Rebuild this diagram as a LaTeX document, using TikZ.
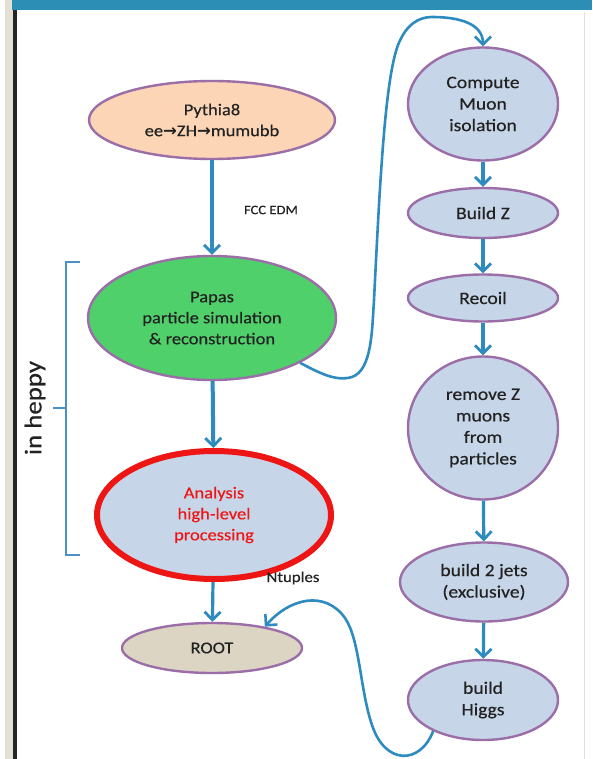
\documentclass[tikz,border=0pt]{standalone}
\usepackage{fontspec}
\setmainfont[FakeStretch=1.12,FakeBold=0.4]{Carlito}
\newfontfamily\symfont{DejaVu Sans}
\usetikzlibrary{shapes.geometric,arrows.meta}
\definecolor{conn}{HTML}{2E8BC0}
\definecolor{brk}{HTML}{4A8FC8}
\definecolor{purp}{HTML}{9B6EA8}
\definecolor{lblue}{HTML}{C6D6E8}
\definecolor{peach}{HTML}{FBD5B5}
\definecolor{lgreen}{HTML}{50D06A}
\definecolor{rootc}{HTML}{DDD5C3}
\definecolor{redc}{HTML}{EE1515}
\definecolor{txt}{HTML}{222222}
\definecolor{banner}{HTML}{2C8DB5}
\definecolor{strip}{HTML}{E5E0D6}
\tikzset{
  ell/.style={ellipse, draw=purp, line width=2.4pt, inner sep=0pt, align=center, text=txt},
  lefttxt/.style={font=\fontsize{16.5}{21}\selectfont},
  righttxt/.style={font=\fontsize{17.5}{21.5}\selectfont},
  flow/.style={draw=conn, line width=3.2pt, -{Straight Barb[length=8pt,width=16pt,line width=2.8pt]}},
  curvy/.style={draw=conn, line width=2.6pt, -{Straight Barb[length=8pt,width=16pt,line width=2.6pt]}},
  lbl/.style={text=txt, inner sep=0pt}
}
\begin{document}
\begin{tikzpicture}[x=1pt,y=-1pt]
\useasboundingbox (0,0) rectangle (592,759);
% frame decorations
\fill[white] (0,0) rectangle (592,759);
\fill[strip] (5,0) rectangle (13,759);
\fill[banner] (12,0) rectangle (592,10);
\fill[black!85] (13,10) rectangle (17,759);
\draw[black!12, line width=1pt] (584,12) -- (584,759);

% left column
\node[ell, lefttxt, fill=peach, minimum width=246pt, minimum height=78pt] (pythia) at (212,120)
  {Pythia8\\ee{\symfont\bfseries →}ZH{\symfont\bfseries →}mumubb};
\node[ell, lefttxt, fill=lgreen, minimum width=248pt, minimum height=124pt] (papas) at (212,318)
  {Papas\\particle simulation\\\& reconstruction};
\node[ellipse, draw=redc, line width=6pt, inner sep=0pt, fill=lblue, align=center, text=redc, lefttxt,
  minimum width=234pt, minimum height=128pt] (analysis) at (214,515)
  {Analysis\\high-level\\processing};
\node[ell, lefttxt, fill=rootc, minimum width=180pt, minimum height=50pt] (root) at (212,648) {ROOT};

% right column
\node[ell, righttxt, fill=lblue, minimum width=150pt, minimum height=113pt] (compute) at (483,104)
  {Compute\\Muon\\isolation};
\node[ell, righttxt, fill=lblue, minimum width=150pt, minimum height=50pt] (buildz) at (483,213) {Build Z};
\node[ell, righttxt, fill=lblue, minimum width=150pt, minimum height=47pt] (recoil) at (483,298) {Recoil};
\node[ell, righttxt, fill=lblue, minimum width=150pt, minimum height=143pt] (remove) at (483,428)
  {remove Z\\muons\\from\\particles};
\node[ell, righttxt, fill=lblue, minimum width=168pt, minimum height=79pt] (jets) at (484,582)
  {build 2 jets\\(exclusive)};
\node[ell, righttxt, fill=lblue, minimum width=150pt, minimum height=80pt] (higgs) at (483,700)
  {build\\Higgs};

% straight connectors
\draw[flow] (pythia) -- (papas);
\draw[flow, line width=4pt] (papas) -- (analysis);
\draw[flow] (analysis) -- (root);
\draw[flow] (compute) -- (buildz);
\draw[flow] (buildz) -- (recoil);
\draw[flow] (recoil) -- (remove);
\draw[flow] (remove) -- (jets);
\draw[flow] (jets) -- (higgs);

% labels
\node[lbl, font=\fontsize{13}{15}\selectfont] (fcc) at (271,210) {FCC EDM};
\node[lbl, font=\fontsize{15}{17}\selectfont] (ntup) at (293,578) {Ntuples};

% curvy connectors
\draw[curvy] (papas.-27) .. controls (318,372) and (335,382) .. (352,377)
  .. controls (372,370) and (372,330) .. (374,300)
  .. controls (380,180) and (385,80) .. (398,45)
  .. controls (406,25) and (418,17) .. (432,17)
  .. controls (460,17) and (483,24) .. (compute.north);
\draw[curvy] (higgs.-148) .. controls (420,765) and (385,765) .. (372,725)
  .. controls (360,690) and (360,640) .. (345,618)
  .. controls (325,590) and (290,598) .. (root.22);

% bracket
\coordinate (btop) at (80,262);
\coordinate (bbot) at (80,555);
\coordinate (bmid) at (53,408);
\draw[brk, line width=2pt] (btop) -- (66,262) -- (66,555) -- (bbot);
\draw[brk, line width=2pt] (66,408) -- (bmid);
\node[lbl, rotate=90, font=\fontsize{24}{26}\selectfont] (heppy) at (35,408) {in heppy};
\end{tikzpicture}
\end{document}
